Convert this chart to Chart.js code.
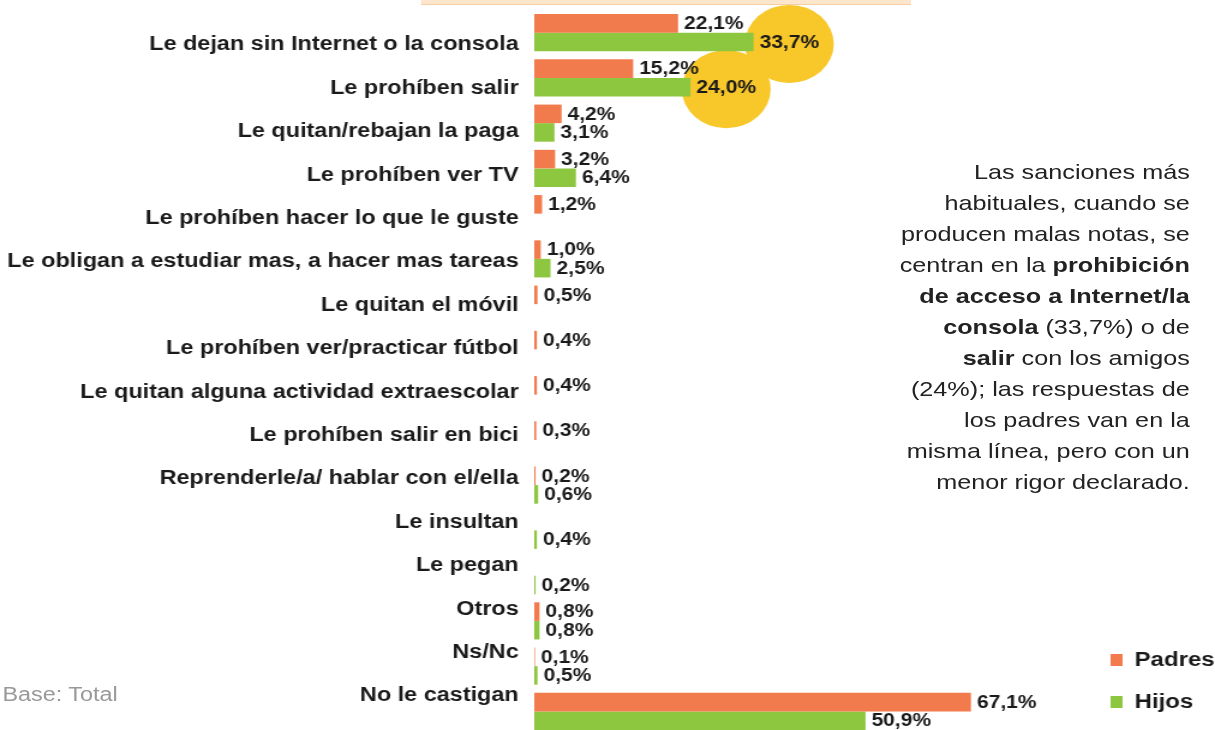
<!DOCTYPE html>
<html lang="es">
<head>
<meta charset="utf-8">
<title>Sanciones por malas notas</title>
<script src="https://cdn.jsdelivr.net/npm/chart.js@4.4.1/dist/chart.umd.min.js"></script>
<style>
  html, body { margin: 0; padding: 0; background: #fff; overflow: hidden; }
  body { width: 1215px; height: 730px; position: relative; }
  #wrap {
    position: absolute; left: 0; top: 0;
    width: 1012px; height: 740px;
    transform: scaleX(1.2006); transform-origin: 0 0;
    font-family: "Liberation Sans", Arial, sans-serif;
  }
  #strip {
    position: absolute; left: 351px; top: -2px; width: 408px; height: 6px;
    background: #fde6cb; border-bottom: 1px solid #f5cfa3;
  }
  #note {
    position: absolute; right: 21px; top: 156px;
    font-size: 21px; line-height: 31px; color: #222; text-align: right;
    white-space: nowrap;
  }
  #base {
    position: absolute; left: 2px; top: 683px;
    font-size: 19.5px; line-height: 22px; color: #999;
  }
</style>
</head>
<body>
<div id="wrap">
  <canvas id="castigos"></canvas>
  <div id="strip"></div>
  <div id="note">
    Las sanciones más<br>
    habituales, cuando se<br>
    producen malas notas, se<br>
    centran en la <b>prohibición</b><br>
    <b>de acceso a Internet/la</b><br>
    <b>consola</b> (33,7%) o de<br>
    <b>salir</b> con los amigos<br>
    (24%); las respuestas de<br>
    los padres van en la<br>
    misma línea, pero con un<br>
    menor rigor declarado.
  </div>
  <div id="base">Base: Total</div>
</div>

<script>
const categories = [
  "Le dejan sin Internet o la consola",
  "Le prohíben salir",
  "Le quitan/rebajan la paga",
  "Le prohíben ver TV",
  "Le prohíben hacer lo que le guste",
  "Le obligan a estudiar mas, a hacer mas tareas",
  "Le quitan el móvil",
  "Le prohíben ver/practicar fútbol",
  "Le quitan alguna actividad extraescolar",
  "Le prohíben salir en bici",
  "Reprenderle/a/ hablar con el/ella",
  "Le insultan",
  "Le pegan",
  "Otros",
  "Ns/Nc",
  "No le castigan"
];
const padres = [22.1, 15.2, 4.2, 3.2, 1.2, 1.0, 0.5, 0.4, 0.4, 0.3, 0.2, null, null, 0.8, 0.1, 67.1];
const hijos  = [33.7, 24.0, 3.1, 6.4, null, 2.5, null, null, null, null, 0.6, 0.4, 0.2, 0.8, 0.5, 50.9];
// rows of "Hijos" whose value gets the yellow disc behind it
const destacados = [0, 1];

const FONT = '"Liberation Sans", Arial, sans-serif';
const VALUE_FONT = 'bold 17.5px ' + FONT;
Chart.defaults.font.family = FONT;

const fmt = v => v.toFixed(1).replace('.', ',') + '%';

// disc behind the main values
const discos = {
  id: 'discos',
  beforeDatasetsDraw(chart) {
    const ctx = chart.ctx;
    const meta = chart.getDatasetMeta(1);
    ctx.save();
    ctx.font = VALUE_FONT;
    ctx.fillStyle = '#f8c72a';
    destacados.forEach(i => {
      const bar = meta.data[i];
      const w = ctx.measureText(fmt(hijos[i])).width;
      ctx.beginPath();
      ctx.ellipse(bar.x + 5 + w / 2, bar.y + 2, 37, 39, 0, 0, Math.PI * 2);
      ctx.fill();
    });
    ctx.restore();
  }
};

// percentage at the end of each bar
const valores = {
  id: 'valores',
  afterDatasetsDraw(chart) {
    const ctx = chart.ctx;
    ctx.save();
    ctx.font = VALUE_FONT;
    ctx.fillStyle = '#1a1a1a';
    ctx.textBaseline = 'middle';
    chart.data.datasets.forEach((ds, d) => {
      chart.getDatasetMeta(d).data.forEach((bar, i) => {
        const v = ds.data[i];
        if (v == null) return;
        ctx.fillText(fmt(v), bar.x + 5, bar.y + 1);
      });
    });
    ctx.restore();
  }
};

new Chart(document.getElementById('castigos'), {
  type: 'bar',
  data: {
    labels: categories,
    datasets: [
      { label: 'Padres', data: padres, backgroundColor: '#f27b4d', borderWidth: 0 },
      { label: 'Hijos', data: hijos, backgroundColor: '#8dc63f', borderWidth: 0 }
    ]
  },
  options: {
    indexAxis: 'y',
    responsive: true,
    maintainAspectRatio: false,
    animation: false,
    events: [],
    categoryPercentage: 0.82,
    barPercentage: 1,
    layout: { padding: { top: 10, bottom: 6, left: 0, right: 0 } },
    scales: {
      x: { display: false, min: 0, max: 84.5 },
      y: { display: false },
      // row names sit on their own axis
      yl: {
        type: 'linear',
        position: 'left',
        reverse: true,
        offset: false,
        min: -0.806,
        max: 15.876,
        afterBuildTicks(s) { s.ticks = categories.map((_, i) => ({ value: i })); },
        afterFit(s) {
          s.width = 445;
          s.paddingTop = 0;
          s.paddingBottom = 0;
        },
        grid: { color: 'transparent', offset: false, drawOnChartArea: false, drawTicks: true, tickLength: 13 },
        border: { display: false },
        ticks: {
          autoSkip: false,
          padding: 0,
          color: '#1a1a1a',
          font: { size: 19.5, weight: 'bold' },
          callback: v => categories[v]
        }
      }
    },
    plugins: {
      tooltip: { enabled: false },
      legend: {
        position: 'right',
        align: 'end',
        maxWidth: 109,
        labels: {
          boxWidth: 10,
          boxHeight: 12,
          padding: 22,
          color: '#1a1a1a',
          font: { size: 20, weight: 'bold' }
        }
      }
    }
  },
  plugins: [discos, valores]
});
</script>
</body>
</html>
